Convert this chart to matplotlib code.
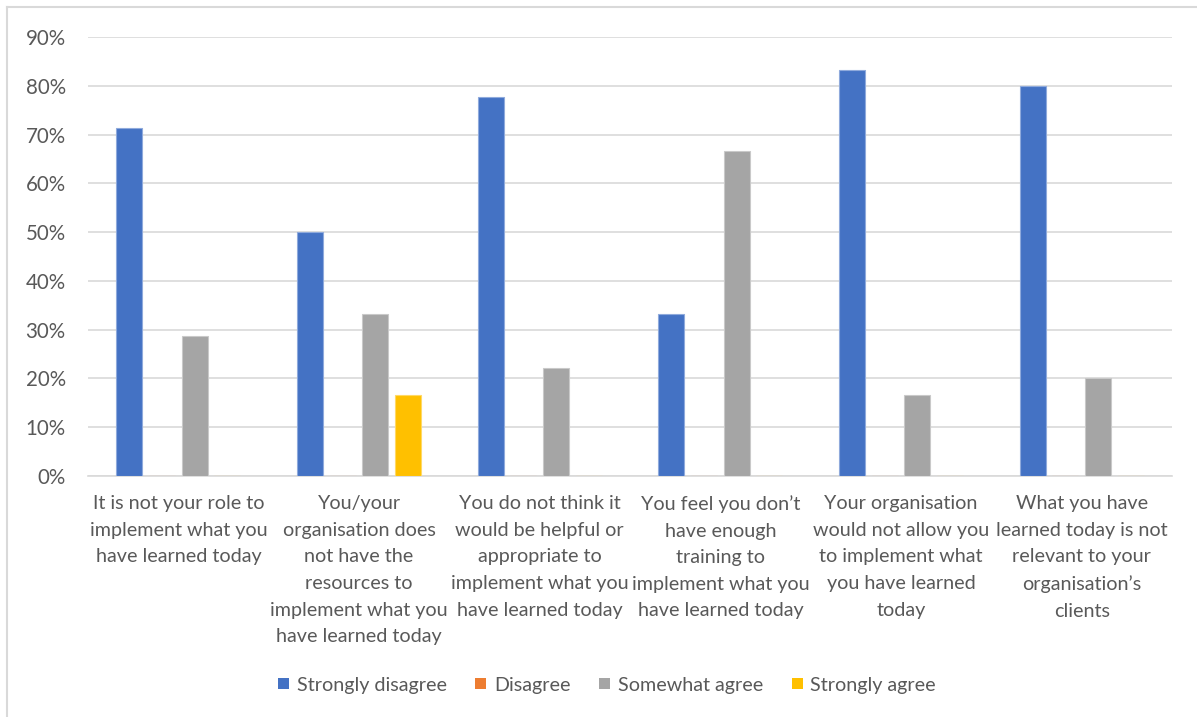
import matplotlib
matplotlib.use("Agg")
import matplotlib.pyplot as plt
from matplotlib.lines import Line2D
from matplotlib.patches import Patch
import numpy as np

categories = [
    "It is not your role to\nimplement what you\nhave learned today",
    "You/your\norganisation does\nnot have the\nresources to\nimplement what you\nhave learned today",
    "You do not think it\nwould be helpful or\nappropriate to\nimplement what you\nhave learned today",
    "You feel you don\u2019t\nhave enough\ntraining to\nimplement what you\nhave learned today",
    "Your organisation\nwould not allow you\nto implement what\nyou have learned\ntoday",
    "What you have\nlearned today is not\nrelevant to your\norganisation\u2019s\nclients",
]
series_names = ["Strongly disagree", "Disagree", "Somewhat agree", "Strongly agree"]
strongly_disagree = [0.714, 0.500, 0.778, 0.333, 0.833, 0.800]
disagree = [0.0, 0.0, 0.0, 0.0, 0.0, 0.0]
somewhat_agree = [0.286, 0.333, 0.222, 0.667, 0.167, 0.200]
strongly_agree = [0.0, 0.167, 0.0, 0.0, 0.0, 0.0]
y_ticks = [0.0, 0.1, 0.2, 0.3, 0.4, 0.5, 0.6, 0.7, 0.8, 0.9]

colors = ["#4472C4", "#ED7D31", "#A5A5A5", "#FFC000"]
edge_colors = ["#8FAADC", "#F4B183", "#C9C9C9", "#FFD966"]
text_color = "#595959"

plt.rcParams["font.family"] = ["Lato", "DejaVu Sans"]

W, H = 1197, 717
fig = plt.figure(figsize=(W / 100, H / 100), dpi=100)

# chart frame (left and top edges)
fig.add_artist(Line2D([7 / W, 7 / W], [0, 1 - 7 / H], color="#D9D9D9", lw=1.5,
                      transform=fig.transFigure))
fig.add_artist(Line2D([7 / W, 1], [1 - 7 / H, 1 - 7 / H], color="#D9D9D9", lw=1.5,
                      transform=fig.transFigure))

left, right, top, bottom = 88, 1172, 37, 476
ax = fig.add_axes([left / W, 1 - bottom / H, (right - left) / W, (bottom - top) / H])

data = [strongly_disagree, disagree, somewhat_agree, strongly_agree]
x = np.arange(len(categories))
step = 0.181
width = 0.144
for i, (vals, c, ec) in enumerate(zip(data, colors, edge_colors)):
    offs = (i - 1.5) * step
    ax.bar(x + offs, vals, width=width, color=c, edgecolor=ec, linewidth=0.8,
           label=series_names[i], zorder=3)

ax.set_xlim(-0.5, len(categories) - 0.5)
ax.set_ylim(0, 0.9)
ax.set_yticks(y_ticks)
ax.set_yticklabels([f"{int(round(t * 100))}%" for t in y_ticks])
ax.yaxis.grid(True, color="#D9D9D9", lw=1.2, zorder=0)
ax.set_axisbelow(True)

for s in ["top", "right", "left"]:
    ax.spines[s].set_visible(False)
ax.spines["bottom"].set_color("#D9D9D9")
ax.spines["bottom"].set_linewidth(1.2)

ax.set_xticks(x)
ax.set_xticklabels(categories, fontsize=14.2, color=text_color, linespacing=1.68,
                   multialignment="center")
ax.tick_params(axis="x", length=0, pad=14)
ax.tick_params(axis="y", length=0, pad=16, labelsize=14.8, labelcolor=text_color)

handles = [Patch(facecolor=c, edgecolor="none") for c in colors]
fig.legend(handles, series_names, loc="center", bbox_to_anchor=(607 / W, 1 - 685 / H),
           ncol=4, frameon=False, fontsize=14.2, labelcolor=text_color,
           handlelength=0.55, handleheight=0.55, handletextpad=0.4, columnspacing=1.45)

fig.savefig("out.png", dpi=100)
